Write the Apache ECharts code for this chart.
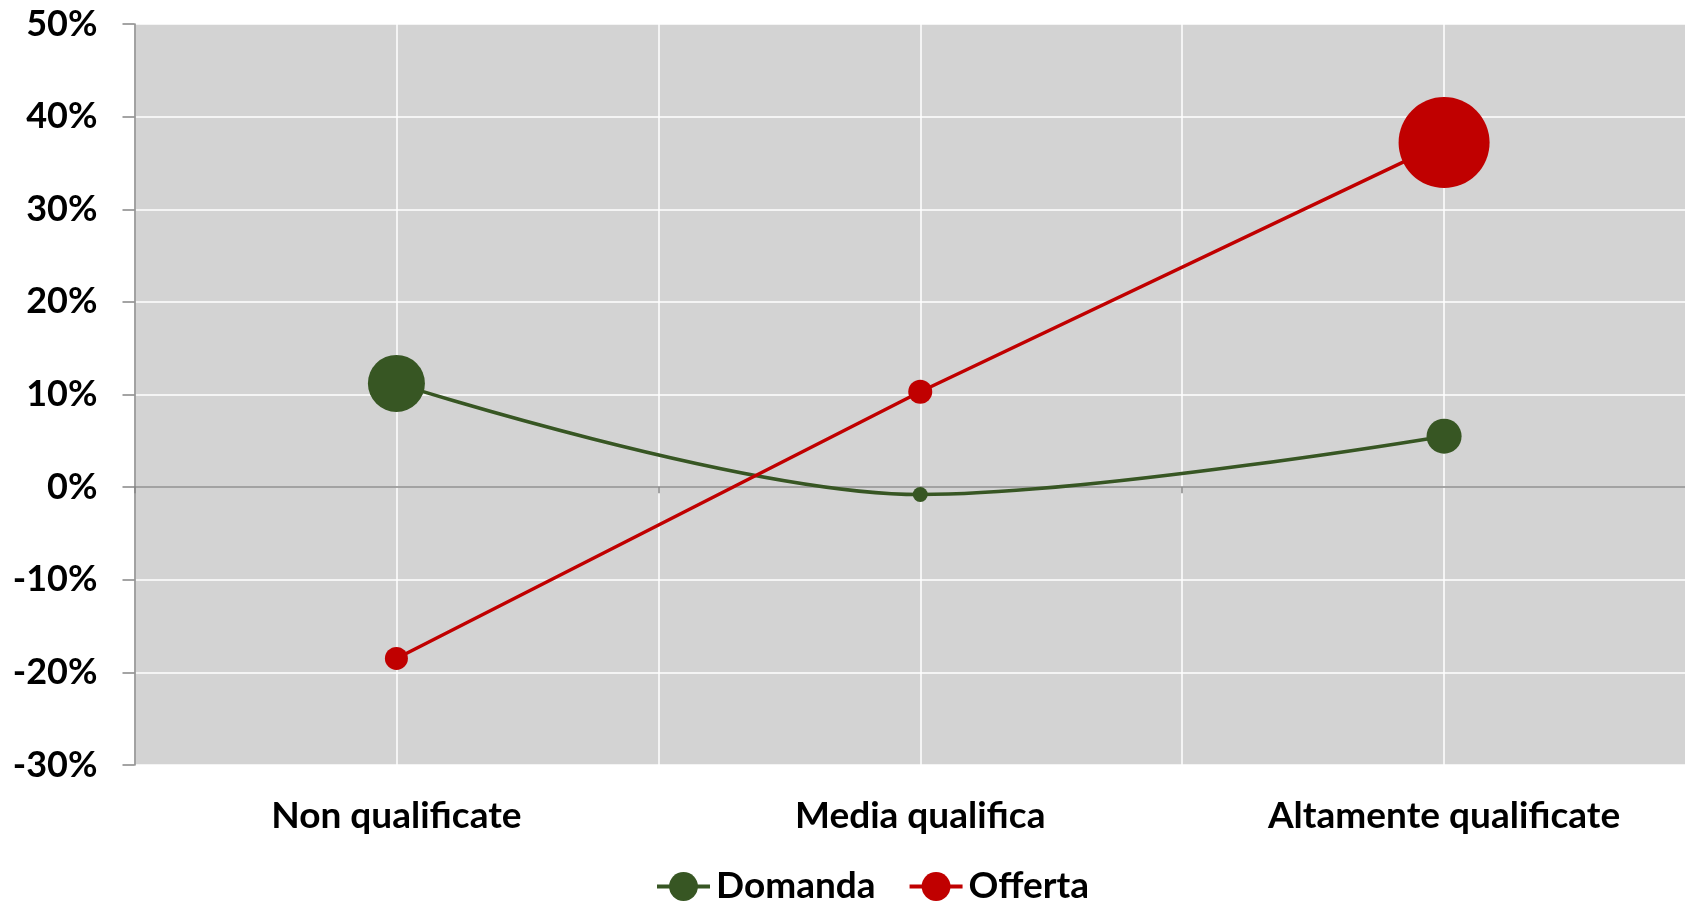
<!DOCTYPE html>
<html><head><meta charset="utf-8">
<script src="https://cdn.jsdelivr.net/npm/echarts@6/dist/echarts.min.js"></script>
<style>html,body{margin:0;padding:0;background:#fff}#c{width:1685px;height:906px}</style>
</head><body><div id="c"></div>
<script>
const categories = ['Non qualificate', 'Media qualifica', 'Altamente qualificate'];
const seriesNames = ['Domanda', 'Offerta'];
const domanda = [11.2, -0.8, 5.5];
const offerta = [-18.5, 10.3, 37.2];
// third variable shown as marker size (bubble weight)
const domandaWeight = [57, 15, 35];
const offertaWeight = [23, 24, 91];
const yMin = -30, yMax = 50, yStep = 10;

const FONT = 'Lato';
const FS = 37;
const GREEN = '#375623';
const RED = '#C00000';
const AXIS = '#868686';

const chart = echarts.init(document.getElementById('c'), null, {renderer: 'canvas'});
chart.setOption({
  animation: false,
  backgroundColor: '#ffffff',
  grid: {
    left: 134.5, top: 24, right: -21, bottom: 141,
    show: true, backgroundColor: '#d3d3d3', borderWidth: 0,
    containLabel: false, outerBoundsMode: 'none'
  },
  legend: {
    data: seriesNames,
    left: 655, top: 868, padding: 0,
    itemWidth: 53, itemHeight: 36, itemGap: 32,
    lineStyle: {width: 4},
    textStyle: {fontFamily: FONT, fontWeight: 'bold', fontSize: FS, color: '#000', padding: [0, 0, 0, 1]}
  },
  xAxis: [
    {
      type: 'category', data: categories, position: 'bottom', boundaryGap: true,
      axisLine: {show: false, onZero: false}, axisTick: {show: false}, splitLine: {show: false},
      axisLabel: {margin: 33, fontFamily: FONT, fontWeight: 'bold', fontSize: FS, color: '#000', interval: 0}
    },
    {
      type: 'category', data: categories, position: 'bottom', boundaryGap: true,
      axisLine: {show: true, onZero: true, lineStyle: {color: AXIS, width: 1.5}},
      axisTick: {show: true, length: 6, lineStyle: {color: AXIS, width: 1.5}},
      axisLabel: {show: false}, splitLine: {show: false}
    },
    {
      type: 'value', min: 0, max: 6, interval: 1, position: 'top',
      axisLine: {show: false, onZero: false}, axisTick: {show: false}, axisLabel: {show: false},
      splitLine: {show: true, lineStyle: {color: '#ffffff', width: 1.5}}
    }
  ],
  yAxis: {
    type: 'value', min: yMin, max: yMax, interval: yStep,
    axisLine: {show: true, lineStyle: {color: AXIS, width: 1.5}},
    axisTick: {show: true, length: 12, lineStyle: {color: AXIS, width: 1.5}},
    axisLabel: {margin: 37, fontFamily: FONT, fontWeight: 'bold', fontSize: 36, color: '#000',
      formatter: v => v + '%'},
    splitLine: {show: true, lineStyle: {color: '#ffffff', width: 1.5}}
  },
  series: [
    {
      name: seriesNames[0], type: 'line', xAxisIndex: 0, data: domanda,
      smooth: 0.33, symbol: 'circle',
      symbolSize: (v, p) => domandaWeight[p.dataIndex],
      lineStyle: {color: GREEN, width: 3.5}, itemStyle: {color: GREEN},
      z: 3
    },
    {
      name: seriesNames[1], type: 'line', xAxisIndex: 0, data: offerta,
      smooth: false, symbol: 'circle',
      symbolSize: (v, p) => offertaWeight[p.dataIndex],
      lineStyle: {color: RED, width: 3.5}, itemStyle: {color: RED},
      z: 4
    }
  ]
});
</script>
</body></html>
